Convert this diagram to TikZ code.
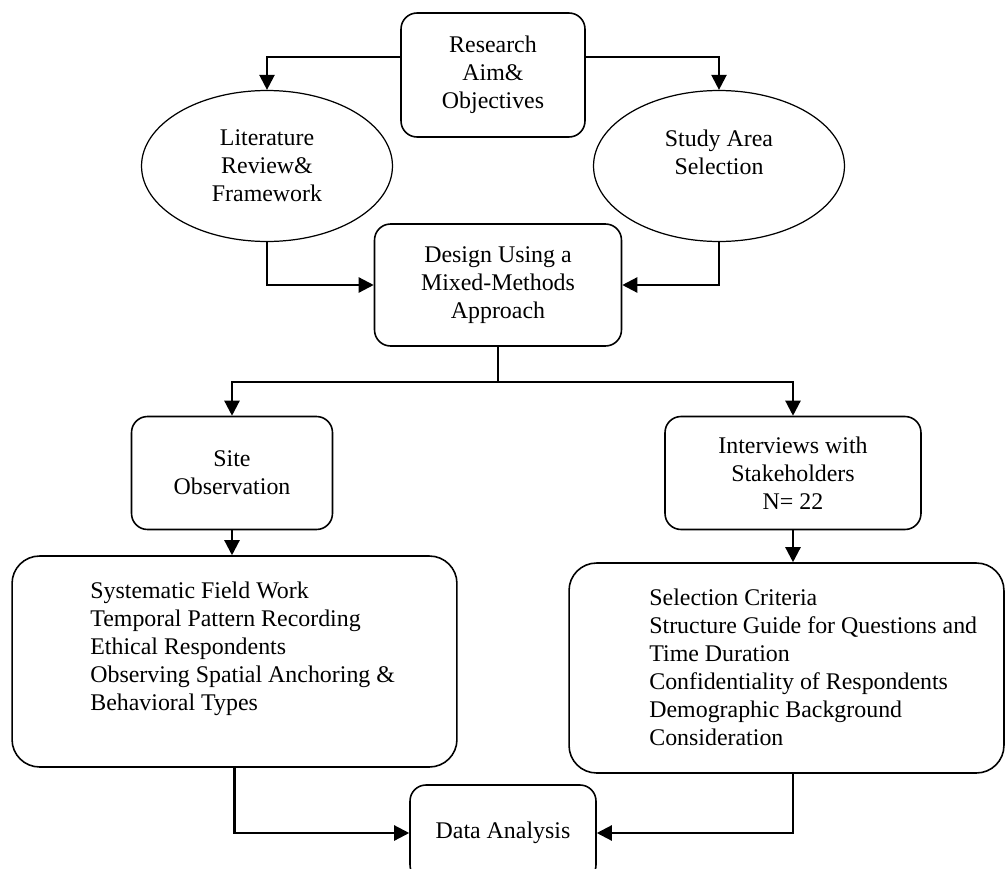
\documentclass[tikz,border=0pt]{standalone}
\usepackage{fontspec}
\setmainfont{Liberation Serif}
\usetikzlibrary{arrows.meta,shapes.geometric}

\tikzset{
  stage/.style={draw,line width=0.9pt,rounded corners=0.32cm,align=center,inner sep=0pt},
  oval/.style={draw,ellipse,line width=0.7pt,align=center,inner sep=0pt},
  listbox/.style={draw,line width=0.9pt,rounded corners=0.55cm,inner sep=0pt},
  listtext/.style={align=left,anchor=west,inner sep=0pt},
  flow/.style={line width=1.3pt,-{Triangle[length=0.3cm,width=0.3cm]}}
}

\begin{document}
\begin{tikzpicture}[x=0.02cm,y=-0.02cm,font=\fontsize{13.6}{15.9}\selectfont]
\useasboundingbox (0,0) rectangle (1005,869);
% top box and the two ovals
\node[stage,minimum width=3.68cm,minimum height=2.48cm] (aim) at (493,75) {Research\\Aim\&\\Objectives};
\node[oval,minimum width=5.02cm,minimum height=3.02cm] (lit) at (267,166) {Literature\\Review\&\\Framework};
\node[oval,minimum width=5.02cm,minimum height=3.02cm] (area) at (719,166) {Study Area\\Selection\\\mbox{}};
% design box
\node[stage,minimum width=4.94cm,minimum height=2.44cm] (design) at (498,285) {Design Using a\\Mixed-Methods\\Approach};
% the two methods
\node[stage,minimum width=4.02cm,minimum height=2.26cm] (site) at (232,473) {Site\\Observation};
\node[stage,minimum width=5.12cm,minimum height=2.26cm] (inter) at (793,473) {Interviews with\\Stakeholders\\N= 22};
% detail boxes
\node[listbox,minimum width=8.9cm,minimum height=4.22cm] (field) at (234.5,661.5) {};
\node[listtext] (fieldtext) at (90,649) {Systematic Field Work\\Temporal Pattern Recording\\Ethical Respondents\\Observing Spatial Anchoring \&\\Behavioral Types};
\node[listbox,minimum width=8.7cm,minimum height=4.2cm] (crit) at (786.5,668) {};
\node[listtext] (crittext) at (649,667) {Selection Criteria\\Structure Guide for Questions and\\Time Duration\\Confidentiality of Respondents\\Demographic Background\\Consideration};
% data analysis (cut off at the bottom)
\node[stage,minimum width=3.72cm,minimum height=1.92cm] (data) at (503,833) {Data Analysis};
% connectors
\coordinate (split) at (498,382);
\draw[flow] ([yshift=0.36cm]aim.west) -| (lit.north);
\draw[flow] ([yshift=0.36cm]aim.east) -| (area.north);
\draw[flow] (lit.south) |- (design.west);
\draw[flow] (area.south) |- (design.east);
\draw[flow] (design.south) -- (split) -| (site.north);
\draw[flow] (split) -| (inter.north);
\draw[flow] (site.south) -- (site.south |- field.north);
\draw[flow] (inter.south) -- (inter.south |- crit.north);
\draw[flow] (field.south) |- (data.west);
\draw[flow] (inter.south |- crit.south) |- (data.east);
\end{tikzpicture}
\end{document}
